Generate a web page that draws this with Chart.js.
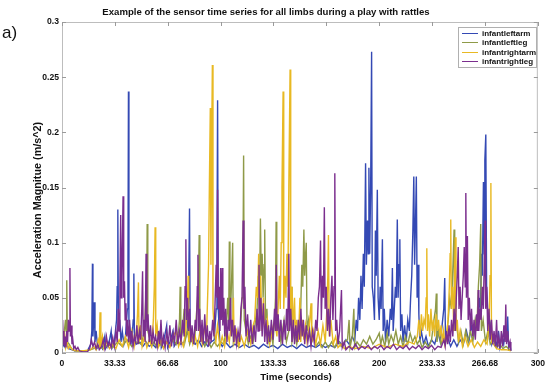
<!DOCTYPE html>
<html>
<head>
<meta charset="utf-8">
<script src="https://cdn.jsdelivr.net/npm/chart.js@4.4.1/dist/chart.umd.min.js"></script>
<style>
  html, body { margin: 0; padding: 0; background: #fff; }
  #chart { display: block; }
</style>
</head>
<body>
<canvas id="chart" width="550" height="387"></canvas>
<script>
// Data: [time (s), acceleration magnitude (m/s^2)]
const seriesNames = ['infantleftarm', 'infantleftleg', 'infantrightarm', 'infantrightleg'];
const seriesColors = ['#3449b4', '#8f9a48', '#e8b923', '#7b2e8e'];

const leftArm = [
    [0, 0.004], [1, 0.008], [2, 0.005], [3, 0.01], [4, 0.004], [6, 0.003], [8, 0.002], [12, 0.002], [16, 0.002],
    [18.2, 0.008], [18.8, 0.02], [19.2, 0.081], [19.5, 0.015], [20.0, 0.03], [20.4, 0.046], [20.8, 0.01], [21.5, 0.02],
    [22.5, 0.005], [24, 0.008], [25.5, 0.004], [27, 0.015], [27.5, 0.004], [29, 0.008], [30, 0.012], [31, 0.02],
    [31.6, 0.005], [33, 0.01], [34.4, 0.03], [34.8, 0.06], [35.2, 0.130], [35.6, 0.02], [36.4, 0.03], [37.2, 0.01],
    [38, 0.02], [39, 0.008], [40, 0.015], [41.2, 0.04], [41.6, 0.08], [41.9, 0.237], [42.2, 0.03], [43, 0.02],
    [44, 0.01], [44.9, 0.03], [45.3, 0.072], [45.7, 0.01], [47, 0.008], [49, 0.01], [51, 0.006], [53, 0.01],
    [55, 0.006], [57, 0.008], [59, 0.005], [60.5, 0.012], [62, 0.02], [62.6, 0.005], [64, 0.01], [66, 0.025],
    [66.6, 0.005], [68, 0.01], [70, 0.02], [70.7, 0.006], [72.5, 0.01], [75, 0.008], [77, 0.01], [79, 0.02],
    [79.8, 0.05], [80.4, 0.131], [80.8, 0.02], [82, 0.01], [84, 0.008], [86, 0.012], [88, 0.006], [90, 0.01],
    [92, 0.006], [94, 0.01], [96, 0.012], [97.2, 0.04], [97.7, 0.09], [98.1, 0.229], [98.5, 0.04], [99.5, 0.01],
    [101, 0.006], [103, 0.01], [106, 0.005], [109, 0.008], [112, 0.005], [115, 0.008], [118, 0.005], [121, 0.007],
    [124, 0.004], [127, 0.008], [130, 0.005], [133, 0.007], [136, 0.004], [139, 0.008], [142, 0.005], [145, 0.007],
    [148, 0.004], [151, 0.008], [154, 0.005], [157, 0.007], [160, 0.005], [163, 0.008], [166, 0.005], [169, 0.007],
    [172, 0.005], [175, 0.01], [177, 0.006], [179, 0.012], [181, 0.008], [183, 0.015], [184.5, 0.01], [185.5, 0.03],
    [186.3, 0.02], [187, 0.05], [187.8, 0.03], [188.5, 0.07], [189.2, 0.04], [190, 0.09], [190.6, 0.06], [191.4, 0.172],
    [191.9, 0.08], [192.6, 0.12], [193.1, 0.09], [193.5, 0.168], [194, 0.09], [194.6, 0.15], [195.2, 0.273], [195.6, 0.06],
    [196.3, 0.05], [197, 0.03], [197.6, 0.111], [198.1, 0.07], [198.8, 0.148], [199.3, 0.05], [200, 0.03], [200.6, 0.06],
    [201.2, 0.04], [202, 0.103], [202.5, 0.02], [203.2, 0.04], [204, 0.01], [205, 0.03], [206, 0.015], [207, 0.04],
    [207.7, 0.03], [208.3, 0.077], [208.8, 0.02], [209.5, 0.04], [210.2, 0.06], [210.8, 0.05], [211.4, 0.121], [211.9, 0.05],
    [212.5, 0.08], [213, 0.103], [213.5, 0.02], [214.3, 0.035], [215, 0.01], [216, 0.025], [217, 0.01], [218, 0.03],
    [219, 0.02], [219.8, 0.05], [220.5, 0.07], [221.2, 0.11], [221.8, 0.160], [222.3, 0.08], [222.9, 0.12], [223.4, 0.160],
    [223.9, 0.05], [224.5, 0.08], [225, 0.035], [225.6, 0.01], [226.5, 0.02], [228, 0.008], [229.5, 0.015], [231, 0.006],
    [233, 0.012], [235, 0.008], [237, 0.02], [238.5, 0.01], [240, 0.03], [240.7, 0.04], [241.3, 0.068], [241.8, 0.01],
    [243, 0.015], [245, 0.006], [247, 0.012], [249, 0.006], [251, 0.012], [253, 0.008], [255, 0.02], [256.5, 0.01],
    [258, 0.025], [259.5, 0.015], [261, 0.03], [262, 0.02], [263, 0.05], [263.8, 0.04], [264.5, 0.09], [265, 0.07],
    [265.7, 0.155], [266.2, 0.09], [266.6, 0.175], [267.2, 0.198], [267.7, 0.06], [268.4, 0.04], [269, 0.015], [270, 0.025],
    [271, 0.008], [272.5, 0.015], [274, 0.006], [275.2, 0.02], [276, 0.005], [277.5, 0.015], [278.5, 0.008], [279.5, 0.02],
    [280.5, 0.01], [281, 0.033], [281.6, 0.005], [282.4, 0.008], [283, 0.002]
];

const leftLeg = [
    [0, 0.005], [0.8, 0.012], [1.5, 0.02], [2.2, 0.03], [2.6, 0.02], [3, 0.066], [3.4, 0.01], [4.5, 0.008], [6, 0.004],
    [8, 0.002], [12, 0.002], [16, 0.002], [20, 0.004], [23, 0.006], [26, 0.004], [29, 0.008], [32, 0.005], [35, 0.01],
    [38, 0.006], [41, 0.012], [44, 0.006], [47, 0.01], [50, 0.008], [52, 0.02], [52.8, 0.05], [53.3, 0.03], [53.7, 0.117],
    [54.1, 0.02], [55, 0.015], [56.5, 0.006], [58, 0.01], [60, 0.005], [62, 0.008], [64, 0.005], [66, 0.01], [68, 0.006],
    [70, 0.012], [72, 0.008], [73.5, 0.02], [74.1, 0.03], [74.5, 0.060], [74.9, 0.01], [76, 0.02], [77, 0.04], [77.5, 0.01],
    [79, 0.02], [80.5, 0.008], [82, 0.015], [83.5, 0.01], [84.5, 0.03], [85.5, 0.05], [86.1, 0.07], [86.5, 0.107],
    [86.9, 0.02], [88, 0.015], [90, 0.006], [92, 0.012], [94, 0.005], [96, 0.01], [98, 0.006], [100, 0.01], [102, 0.008],
    [103.5, 0.02], [104.5, 0.05], [105.1, 0.03], [105.5, 0.101], [105.9, 0.02], [106.8, 0.06], [107.6, 0.100], [108, 0.01],
    [109.5, 0.02], [111, 0.008], [112.5, 0.02], [113.5, 0.05], [114.1, 0.08], [114.5, 0.179], [114.9, 0.03], [116, 0.02],
    [117.5, 0.008], [119, 0.015], [120.5, 0.01], [122, 0.03], [123, 0.04], [123.8, 0.07], [124.5, 0.05], [125.1, 0.122],
    [125.6, 0.07], [126.2, 0.09], [126.8, 0.05], [127.4, 0.08], [127.8, 0.112], [128.3, 0.03], [129.2, 0.04], [130, 0.01],
    [131.5, 0.02], [133, 0.008], [134, 0.03], [134.6, 0.05], [135, 0.119], [135.4, 0.02], [136.5, 0.03], [138, 0.01],
    [140, 0.03], [141.5, 0.01], [143, 0.02], [144.5, 0.06], [145, 0.01], [146.5, 0.02], [148, 0.008], [149.5, 0.02],
    [150.5, 0.04], [151.2, 0.08], [151.8, 0.06], [152.5, 0.112], [153, 0.07], [153.6, 0.09], [154, 0.10], [154.5, 0.02],
    [155.5, 0.03], [157, 0.008], [158.5, 0.015], [160, 0.006], [162, 0.01], [164, 0.005], [166, 0.01], [168, 0.005],
    [170, 0.01], [172, 0.005], [174, 0.012], [176, 0.006], [178, 0.01], [180, 0.012], [181, 0.03], [181.6, 0.005],
    [183, 0.015], [184, 0.040], [184.5, 0.005], [186, 0.01], [188, 0.006], [190, 0.012], [192, 0.008], [194, 0.015],
    [196, 0.008], [198, 0.012], [200, 0.018], [201, 0.008], [202, 0.015], [203.5, 0.006], [205, 0.018], [206, 0.008],
    [207.5, 0.016], [209, 0.01], [210.5, 0.02], [212, 0.008], [213.5, 0.015], [215, 0.006], [216.5, 0.015], [218, 0.008],
    [219.5, 0.018], [221, 0.01], [222.5, 0.015], [224, 0.008], [225.5, 0.012], [227, 0.005], [229, 0.01], [231, 0.005],
    [233, 0.012], [234.5, 0.03], [235.5, 0.04], [236, 0.054], [236.4, 0.01], [237.5, 0.02], [239, 0.008], [240.5, 0.015],
    [242, 0.01], [243.5, 0.03], [244.5, 0.05], [245.5, 0.04], [246.5, 0.08], [247.2, 0.112], [247.6, 0.02], [248.5, 0.03],
    [250, 0.01], [251.5, 0.02], [253, 0.008], [254.5, 0.02], [256, 0.01], [257.5, 0.02], [259, 0.01], [260.5, 0.03],
    [261.5, 0.02], [262.5, 0.06], [263.3, 0.08], [264, 0.117], [264.4, 0.02], [265.5, 0.03], [267, 0.01], [268.5, 0.02],
    [270, 0.008], [272, 0.012], [274, 0.005], [276, 0.008], [278, 0.004], [280, 0.006], [283, 0.002]
];

const rightArm = [
    [0, 0.01], [0.6, 0.02], [1.2, 0.008], [1.8, 0.015], [2.4, 0.005], [3.2, 0.01], [4, 0.004], [5, 0.006], [6.5, 0.003],
    [9, 0.002], [14, 0.002], [18, 0.003], [20, 0.006], [21.5, 0.003], [22.8, 0.012], [23.5, 0.008], [24, 0.037], [24.5, 0.005],
    [25.5, 0.015], [26.5, 0.004], [28, 0.01], [30, 0.004], [32, 0.008], [34, 0.004], [36, 0.012], [38, 0.006], [40, 0.015],
    [42, 0.005], [44, 0.02], [45.5, 0.006], [47, 0.02], [47.6, 0.035], [48.2, 0.064], [48.6, 0.01], [49.5, 0.025], [50.5, 0.006],
    [52, 0.015], [53.5, 0.005], [55, 0.012], [56.5, 0.006], [57.6, 0.03], [58.2, 0.06], [58.7, 0.114], [59.1, 0.015], [60, 0.025],
    [61, 0.006], [62.5, 0.012], [64, 0.004], [66, 0.01], [68, 0.005], [70, 0.015], [72, 0.02], [73.5, 0.006], [75, 0.012],
    [76.5, 0.006], [78, 0.02], [79, 0.04], [79.5, 0.07], [79.9, 0.01], [81, 0.02], [82.5, 0.008], [84, 0.015], [85.5, 0.006],
    [87, 0.02], [88.5, 0.008], [90, 0.025], [91, 0.01], [91.8, 0.05], [92.4, 0.08], [92.9, 0.15], [93.5, 0.222], [93.9, 0.08],
    [94.3, 0.18], [94.8, 0.261], [95.2, 0.04], [96, 0.02], [97, 0.01], [98, 0.025], [99.5, 0.006], [101, 0.015], [102.5, 0.006],
    [104, 0.02], [105.5, 0.01], [107, 0.03], [107.6, 0.02], [108.1, 0.05], [108.5, 0.01], [110, 0.02], [111.5, 0.006], [113, 0.015],
    [115, 0.006], [117, 0.02], [119, 0.008], [120.5, 0.025], [121.5, 0.03], [122.5, 0.06], [123.3, 0.05], [124, 0.09], [124.5, 0.04],
    [125.3, 0.07], [126, 0.02], [127, 0.05], [128, 0.015], [129.5, 0.03], [131, 0.008], [132.5, 0.02], [134, 0.03], [135.5, 0.015],
    [136.5, 0.05], [137, 0.07], [137.6, 0.04], [138.2, 0.1], [138.7, 0.15], [139.4, 0.237], [139.8, 0.04], [140.5, 0.07],
    [141.2, 0.05], [141.8, 0.09], [142.4, 0.06], [143, 0.15], [143.8, 0.257], [144.2, 0.03], [145, 0.06], [145.8, 0.02],
    [146.6, 0.05], [147.2, 0.015], [148, 0.03], [149, 0.01], [150, 0.05], [150.5, 0.01], [151.5, 0.03], [152.5, 0.012],
    [153.5, 0.025], [154.5, 0.01], [155.5, 0.02], [156.5, 0.035], [157, 0.045], [157.5, 0.01], [158.5, 0.02], [160, 0.008],
    [161.5, 0.02], [163, 0.008], [164.5, 0.025], [166, 0.01], [167, 0.04], [167.6, 0.07], [168, 0.107], [168.5, 0.015],
    [169.5, 0.03], [171, 0.008], [172.5, 0.015], [174, 0.005], [176, 0.008], [178, 0.004], [181, 0.006], [185, 0.004],
    [190, 0.006], [195, 0.004], [200, 0.008], [205, 0.005], [210, 0.008], [215, 0.006], [219, 0.01], [222, 0.008], [224, 0.015],
    [225, 0.03], [225.8, 0.015], [226.6, 0.035], [227.4, 0.02], [228.2, 0.03], [229, 0.025], [229.6, 0.05], [230, 0.095],
    [230.4, 0.02], [231, 0.035], [231.8, 0.015], [232.6, 0.04], [233.4, 0.02], [234.2, 0.03], [235, 0.015], [235.8, 0.035],
    [236.6, 0.02], [237.4, 0.03], [238.2, 0.015], [239, 0.025], [239.8, 0.01], [240.6, 0.02], [241.4, 0.008], [242.4, 0.015],
    [243.4, 0.03], [244.2, 0.06], [244.7, 0.09], [245.1, 0.121], [245.5, 0.04], [246.3, 0.06], [247, 0.02], [247.6, 0.08],
    [248, 0.105], [248.4, 0.02], [249.2, 0.03], [250, 0.01], [251, 0.02], [252.5, 0.006], [254, 0.015], [256, 0.006],
    [258, 0.012], [260, 0.005], [262, 0.01], [264, 0.006], [266, 0.012], [268, 0.008], [269.3, 0.03], [269.9, 0.07],
    [270.4, 0.154], [270.8, 0.01], [272, 0.008], [274, 0.004], [277, 0.003], [280, 0.003], [283, 0.002]
];

const rightLeg = [
    [0, 0.01], [0.4, 0.03], [0.8, 0.008], [1.2, 0.02], [1.6, 0.006], [2.0, 0.015], [2.5, 0.005], [3.0, 0.02], [3.5, 0.01],
    [4.0, 0.03], [4.6, 0.02], [5.0, 0.077], [5.3, 0.015], [5.8, 0.025], [6.3, 0.008], [6.8, 0.012], [7.4, 0.004], [8.2, 0.006],
    [9.0, 0.003], [10, 0.005], [11, 0.002], [13, 0.001], [16, 0.001], [17.5, 0.004], [18.5, 0.012], [19.5, 0.006], [20.5, 0.01],
    [21.5, 0.004], [22.5, 0.008], [23.5, 0.003], [25, 0.006], [26, 0.012], [27, 0.004], [28, 0.015], [29, 0.006], [30, 0.01],
    [31, 0.005], [32, 0.014], [33, 0.006], [34, 0.02], [34.8, 0.01], [35.5, 0.04], [36, 0.02], [36.5, 0.06], [37, 0.125],
    [37.4, 0.05], [37.8, 0.07], [38.5, 0.142], [38.9, 0.05], [39.4, 0.065], [39.8, 0.03], [40.3, 0.045], [40.8, 0.015],
    [41.3, 0.03], [42, 0.01], [42.6, 0.03], [43.2, 0.008], [44, 0.02], [44.8, 0.006], [45.6, 0.015], [46.4, 0.01], [47.2, 0.025],
    [48, 0.008], [48.8, 0.02], [49.6, 0.012], [50.3, 0.04], [50.8, 0.074], [51.2, 0.015], [51.8, 0.03], [52.4, 0.01], [53, 0.09],
    [53.5, 0.02], [54.2, 0.035], [55, 0.01], [55.8, 0.025], [56.6, 0.008], [57.4, 0.02], [58.2, 0.01], [59, 0.015], [60, 0.006],
    [60.8, 0.02], [61.6, 0.008], [62.4, 0.03], [63.2, 0.006], [64, 0.015], [65, 0.005], [66, 0.02], [67, 0.008], [68, 0.025],
    [69, 0.006], [70, 0.018], [71, 0.01], [72, 0.03], [73, 0.008], [74, 0.02], [75, 0.01], [76, 0.03], [77, 0.015], [77.6, 0.06],
    [78.1, 0.103], [78.5, 0.03], [79.2, 0.05], [79.8, 0.02], [80.5, 0.04], [81.2, 0.01], [82, 0.025], [83, 0.008], [84, 0.03],
    [84.8, 0.02], [85.3, 0.06], [85.7, 0.089], [86.1, 0.02], [86.8, 0.04], [87.5, 0.01], [88.3, 0.03], [89, 0.008], [90, 0.035],
    [90.8, 0.01], [91.6, 0.025], [92.4, 0.006], [93.2, 0.02], [94, 0.01], [95, 0.03], [95.8, 0.015], [96.5, 0.045], [97.2, 0.08],
    [97.7, 0.05], [98.1, 0.148], [98.5, 0.04], [99.1, 0.06], [99.6, 0.02], [100, 0.077], [100.4, 0.03], [101, 0.077],
    [101.4, 0.025], [102, 0.05], [102.6, 0.015], [103.2, 0.04], [104, 0.01], [104.8, 0.03], [105.5, 0.02], [106.2, 0.05],
    [106.8, 0.015], [107.5, 0.03], [108.3, 0.01], [109, 0.025], [110, 0.008], [111, 0.02], [112, 0.01], [112.8, 0.04],
    [113.5, 0.05], [114.2, 0.12], [114.7, 0.04], [115.3, 0.06], [116, 0.015], [117, 0.035], [118, 0.01], [119, 0.03],
    [120, 0.008], [121, 0.025], [122, 0.01], [123, 0.04], [123.6, 0.02], [124.2, 0.08], [124.7, 0.02], [125.4, 0.05],
    [126.2, 0.015], [127, 0.045], [127.8, 0.01], [128.6, 0.03], [129.4, 0.008], [130.2, 0.025], [131, 0.01], [132, 0.03],
    [133, 0.012], [134, 0.04], [134.6, 0.02], [135.1, 0.08], [135.6, 0.02], [136.3, 0.035], [137, 0.01], [138, 0.03],
    [139, 0.008], [140, 0.03], [140.8, 0.012], [141.6, 0.04], [142.3, 0.02], [143, 0.09], [143.5, 0.02], [144.2, 0.04],
    [145, 0.01], [145.8, 0.03], [146.6, 0.008], [147.4, 0.025], [148.2, 0.01], [149, 0.03], [149.8, 0.012], [150.6, 0.04],
    [151.4, 0.015], [152.2, 0.03], [153, 0.008], [154, 0.025], [155, 0.01], [156, 0.02], [157, 0.006], [158, 0.02],
    [159, 0.01], [160, 0.03], [160.8, 0.02], [161.6, 0.05], [162.3, 0.06], [163, 0.102], [163.5, 0.03], [164.2, 0.07],
    [164.8, 0.05], [165.4, 0.132], [165.9, 0.04], [166.6, 0.06], [167.3, 0.02], [168, 0.04], [168.8, 0.015], [169.5, 0.05],
    [170.2, 0.07], [170.8, 0.03], [171.5, 0.06], [172, 0.163], [172.5, 0.02], [173.2, 0.03], [174, 0.008], [175, 0.02],
    [176.2, 0.057], [176.7, 0.005], [178, 0.01], [179, 0.003], [181, 0.006], [183, 0.003], [185, 0.008], [187, 0.003],
    [189, 0.006], [191, 0.004], [193, 0.007], [195, 0.003], [197, 0.006], [199, 0.004], [201, 0.007], [203, 0.003],
    [205, 0.006], [207, 0.004], [209, 0.008], [211, 0.003], [213, 0.006], [215, 0.004], [217, 0.007], [219, 0.003],
    [221, 0.006], [223, 0.004], [225, 0.007], [227, 0.003], [229, 0.006], [231, 0.004], [233, 0.007], [235, 0.003],
    [237, 0.006], [239, 0.005], [240.8, 0.012], [241.6, 0.006], [242.4, 0.02], [243.2, 0.008], [244, 0.025], [244.8, 0.01],
    [245.6, 0.03], [246.4, 0.015], [247.2, 0.04], [248, 0.02], [248.6, 0.05], [249.2, 0.07], [249.8, 0.096], [250.3, 0.04],
    [251, 0.06], [251.6, 0.03], [252.3, 0.05], [253, 0.07], [253.6, 0.096], [254.2, 0.06], [254.6, 0.145], [255, 0.05],
    [255.6, 0.106], [256.1, 0.03], [256.8, 0.05], [257.5, 0.02], [258.2, 0.04], [259, 0.015], [259.8, 0.03], [260.6, 0.012],
    [261.4, 0.035], [262, 0.02], [262.4, 0.057], [262.8, 0.02], [263.5, 0.04], [264.2, 0.03], [265, 0.06], [265.6, 0.04],
    [266.2, 0.08], [266.7, 0.12], [267.1, 0.04], [267.8, 0.06], [268.4, 0.02], [269.2, 0.04], [270, 0.012], [270.8, 0.03],
    [271.6, 0.008], [272.4, 0.02], [273.2, 0.006], [274, 0.03], [274.6, 0.005], [275.4, 0.015], [276.2, 0.004], [277, 0.02],
    [277.8, 0.006], [278.6, 0.025], [279.3, 0.01], [279.8, 0.044], [280.3, 0.008], [281, 0.02], [281.8, 0.006], [282.5, 0.01],
    [283, 0.002]
];

// Axis ticks
const xTickValues = [0, 33.33, 66.67, 100, 133.33, 166.67, 200, 233.33, 266.67, 300];
const xTickLabels = ['0', '33.33', '66.68', '100', '133.33', '166.68', '200', '233.33', '266.68', '300'];
const yTickValues = [0, 0.05, 0.1, 0.15, 0.2, 0.25, 0.3];
const yTickLabels = ['0', '0.05', '0.1', '0.15', '0.2', '0.25', '0.3'];

const chartTitle = 'Example of the sensor time series for all limbs during a play with rattles';
const xTitle = 'Time (seconds)';
const yTitle = 'Acceleration Magnitue (m/s^2)';
const panelLabel = 'a)';

const FONT = '"Liberation Sans", Arial, Helvetica, sans-serif';

const allSeries = [leftArm, leftLeg, rightArm, rightLeg];

// MATLAB draws the last series on top
const datasets = seriesNames.map((name, i) => ({
    label: name,
    data: allSeries[i].map(p => ({ x: p[0], y: p[1] })),
    borderColor: seriesColors[i],
    backgroundColor: seriesColors[i],
    borderWidth: 1.4,
    pointRadius: 0,
    tension: 0,
    order: seriesNames.length - 1 - i
}));

// Box, inward ticks, titles and legend in MATLAB style
const matlabFrame = {
    id: 'matlabFrame',
    afterDraw(chart) {
        const ctx = chart.ctx;
        const area = chart.chartArea;
        const xs = chart.scales.x;
        const ys = chart.scales.y;

        ctx.save();
        ctx.strokeStyle = '#bdbdbd';
        ctx.lineWidth = 1;
        ctx.strokeRect(area.left + 0.5, area.top + 0.5, area.right - area.left - 1, area.bottom - area.top - 1);

        ctx.strokeStyle = '#9a9a9a';
        ctx.beginPath();
        xTickValues.forEach(v => {
            const px = Math.round(xs.getPixelForValue(v)) + 0.5;
            ctx.moveTo(px, area.top);
            ctx.lineTo(px, area.top + 4);
            ctx.moveTo(px, area.bottom);
            ctx.lineTo(px, area.bottom - 4);
        });
        yTickValues.forEach(v => {
            const py = Math.round(ys.getPixelForValue(v)) + 0.5;
            ctx.moveTo(area.left, py);
            ctx.lineTo(area.left + 4, py);
            ctx.moveTo(area.right, py);
            ctx.lineTo(area.right - 4, py);
        });
        ctx.stroke();

        // Title
        ctx.fillStyle = '#111';
        ctx.textAlign = 'center';
        ctx.textBaseline = 'middle';
        ctx.font = 'bold 9.6px ' + FONT;
        ctx.fillText(chartTitle, 266, 12);

        // Panel label
        ctx.textAlign = 'left';
        ctx.font = '17px ' + FONT;
        ctx.fillText(panelLabel, 2, 33);

        // Axis titles
        ctx.textAlign = 'center';
        ctx.font = 'bold 9.8px ' + FONT;
        ctx.fillText(xTitle, 296, 377);
        ctx.save();
        ctx.font = 'bold 10.8px ' + FONT;
        ctx.translate(38, 200);
        ctx.rotate(-Math.PI / 2);
        ctx.fillText(yTitle, 0, 0);
        ctx.restore();

        // Legend
        const lx = 458, ly = 27, lw = 78, lh = 40;
        ctx.fillStyle = '#fff';
        ctx.fillRect(lx, ly, lw, lh);
        ctx.strokeStyle = '#b0b0b0';
        ctx.strokeRect(lx + 0.5, ly + 0.5, lw, lh);
        ctx.font = 'bold 8px ' + FONT;
        ctx.textAlign = 'left';
        chart.data.datasets.forEach((ds, i) => {
            const ry = Math.round(ly + 6 + i * 9.3) + 0.5;
            ctx.strokeStyle = ds.borderColor;
            ctx.beginPath();
            ctx.moveTo(lx + 4, ry);
            ctx.lineTo(lx + 20, ry);
            ctx.stroke();
            ctx.fillStyle = '#111';
            ctx.fillText(ds.label, lx + 24, ry + 0.5);
        });
        ctx.restore();
    }
};

new Chart(document.getElementById('chart').getContext('2d'), {
    type: 'line',
    data: { datasets: datasets },
    options: {
        responsive: false,
        animation: false,
        devicePixelRatio: 1,
        layout: { padding: { top: 22, right: 12, bottom: 0, left: 0 } },
        plugins: {
            legend: { display: false },
            title: { display: false },
            tooltip: { enabled: false }
        },
        scales: {
            x: {
                type: 'linear',
                min: 0,
                max: 300,
                afterFit: scale => { scale.height = 34; },
                afterBuildTicks: scale => {
                    scale.ticks = xTickValues.map(v => ({ value: v }));
                },
                grid: { display: false, drawTicks: false },
                border: { display: false },
                ticks: {
                    autoSkip: false,
                    maxRotation: 0,
                    padding: 5,
                    color: '#111',
                    font: { family: FONT, size: 8.6, weight: 'bold' },
                    callback: (value, index) => xTickLabels[index]
                }
            },
            y: {
                type: 'linear',
                min: 0,
                max: 0.3,
                afterFit: scale => { scale.width = 62; },
                afterBuildTicks: scale => {
                    scale.ticks = yTickValues.map(v => ({ value: v }));
                },
                grid: { display: false, drawTicks: false },
                border: { display: false },
                ticks: {
                    padding: 3,
                    color: '#111',
                    font: { family: FONT, size: 8.6, weight: 'bold' },
                    callback: (value, index) => yTickLabels[index]
                }
            }
        }
    },
    plugins: [matlabFrame]
});
</script>
</body>
</html>
